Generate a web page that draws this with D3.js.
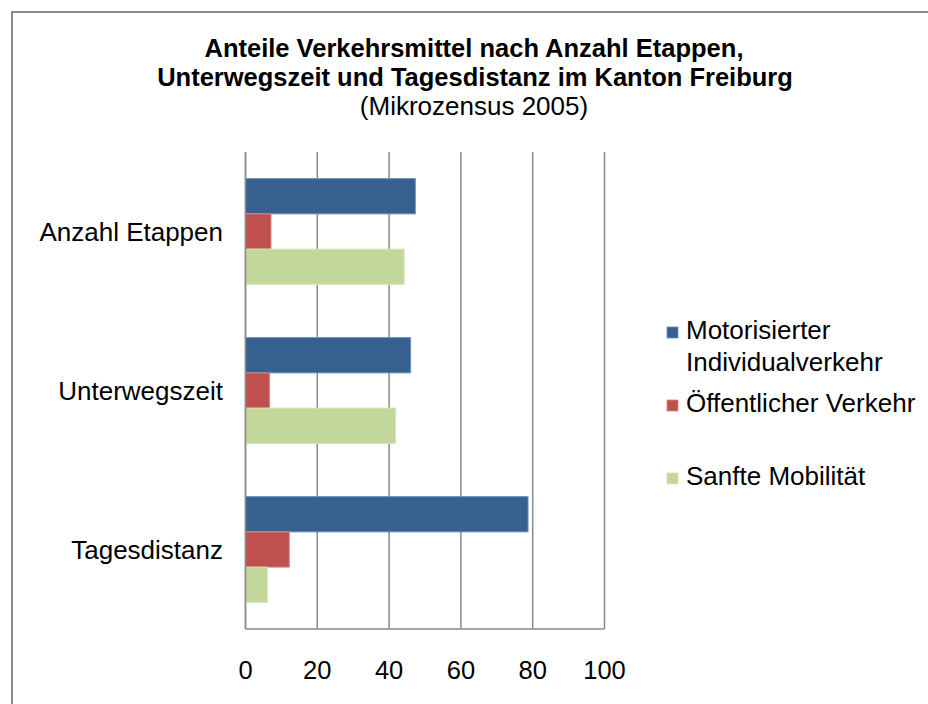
<!DOCTYPE html>
<html lang="de">
<head>
  <meta charset="UTF-8">
  <title>Anteile Verkehrsmittel</title>
  <style>
    body { margin: 0; background: #fff; }
    svg { display: block; font-family: "Liberation Sans", Arial, sans-serif; }
  </style>
</head>
<body>
  <script src="https://cdn.jsdelivr.net/npm/d3@7"></script>
  <script>
    // categories, top to bottom
    const categories = ["Anzahl Etappen", "Unterwegszeit", "Tagesdistanz"];
    const seriesNames = ["Motorisierter Individualverkehr", "Öffentlicher Verkehr", "Sanfte Mobilität"];
    const seriesColors = ["#36608f", "#c0504d", "#c4d79b"];
    const seriesStroke = ["#6f8fb8", "#d58b89", "#d6e4b9"];
    // values in percent, one array per series
    const motorisiert = [47.3, 46.0, 78.7];
    const oeffentlich = [7.1, 6.7, 12.2];
    const sanft = [44.2, 41.8, 6.1];
    const xTicks = [0, 20, 40, 60, 80, 100];

    const W = 928, H = 704;
    const svg = d3.select("body").append("svg")
      .attr("width", W).attr("height", H);

    // outer chart frame (only top and left are visible)
    svg.append("rect")
      .attr("x", 12).attr("y", 12)
      .attr("width", W + 20).attr("height", H + 20)
      .attr("fill", "#fff")
      .attr("stroke", "#8c8c8c")
      .attr("stroke-width", 2);

    // title
    const title = svg.append("text")
      .attr("text-anchor", "middle")
      .attr("fill", "#000");
    title.append("tspan").attr("x", 474).attr("y", 57)
      .attr("font-weight", "bold").attr("font-size", 25.5)
      .text("Anteile Verkehrsmittel nach Anzahl Etappen,");
    title.append("tspan").attr("x", 475).attr("y", 86)
      .attr("font-weight", "bold").attr("font-size", 25.5)
      .text("Unterwegszeit und Tagesdistanz im Kanton Freiburg");
    title.append("tspan").attr("x", 474).attr("y", 115)
      .attr("font-size", 26)
      .text("(Mikrozensus 2005)");

    const plot = { left: 245.5, right: 604.5, top: 152, bottom: 629 };

    const x = d3.scaleLinear().domain([0, 100]).range([plot.left, plot.right]);
    const y = d3.scaleBand().domain(categories)
      .range([plot.top, plot.bottom])
      .paddingInner(0.335).paddingOuter(0.1675);
    const ySub = d3.scaleBand().domain(d3.range(3)).range([0, y.bandwidth()]);

    // gridlines
    svg.append("g")
      .selectAll("line")
      .data(xTicks)
      .join("line")
      .attr("x1", d => x(d)).attr("x2", d => x(d))
      .attr("y1", plot.top).attr("y2", plot.bottom)
      .attr("stroke", "#8a8a8a")
      .attr("stroke-width", 1.5);

    // bottom axis line
    svg.append("line")
      .attr("x1", plot.left).attr("x2", plot.right)
      .attr("y1", plot.bottom).attr("y2", plot.bottom)
      .attr("stroke", "#8a8a8a").attr("stroke-width", 1.5);

    // bars
    const series = [motorisiert, oeffentlich, sanft];
    const rows = [];
    categories.forEach((c, i) => {
      series.forEach((s, j) => rows.push({ cat: c, s: j, v: s[i] }));
    });

    svg.append("g")
      .selectAll("rect")
      .data(rows)
      .join("rect")
      .attr("x", x(0))
      .attr("y", d => y(d.cat) + ySub(d.s))
      .attr("width", d => x(d.v) - x(0))
      .attr("height", ySub.bandwidth())
      .attr("fill", d => seriesColors[d.s])
      .attr("stroke", d => seriesStroke[d.s])
      .attr("stroke-width", 1);

    // left axis line on top of bars
    svg.append("line")
      .attr("x1", plot.left).attr("x2", plot.left)
      .attr("y1", plot.top).attr("y2", plot.bottom)
      .attr("stroke", "#8a8a8a").attr("stroke-width", 1.5);

    // x tick labels
    svg.append("g")
      .selectAll("text")
      .data(xTicks)
      .join("text")
      .attr("x", d => x(d))
      .attr("y", 679)
      .attr("text-anchor", "middle")
      .attr("font-size", 25.5)
      .attr("fill", "#000")
      .text(d => d);

    // category labels
    svg.append("g")
      .selectAll("text")
      .data(categories)
      .join("text")
      .attr("x", 223)
      .attr("y", d => y(d) + y.bandwidth() / 2 + 9)
      .attr("text-anchor", "end")
      .attr("font-size", 26)
      .attr("fill", "#000")
      .text(d => d);

    // legend
    const legendItems = [
      { lines: ["Motorisierter", "Individualverkehr"], y: 339 },
      { lines: ["Öffentlicher Verkehr"], y: 412 },
      { lines: ["Sanfte Mobilität"], y: 485 }
    ];
    const lg = svg.append("g");
    legendItems.forEach((item, i) => {
      lg.append("rect")
        .attr("x", 667).attr("y", item.y - 12)
        .attr("width", 11).attr("height", 11)
        .attr("fill", seriesColors[i])
        .attr("stroke", seriesStroke[i]).attr("stroke-width", 0.8);
      const t = lg.append("text")
        .attr("font-size", 26)
        .attr("fill", "#000");
      item.lines.forEach((l, k) => {
        t.append("tspan").attr("x", 686).attr("y", item.y + k * 32).text(l);
      });
    });
  </script>
</body>
</html>
